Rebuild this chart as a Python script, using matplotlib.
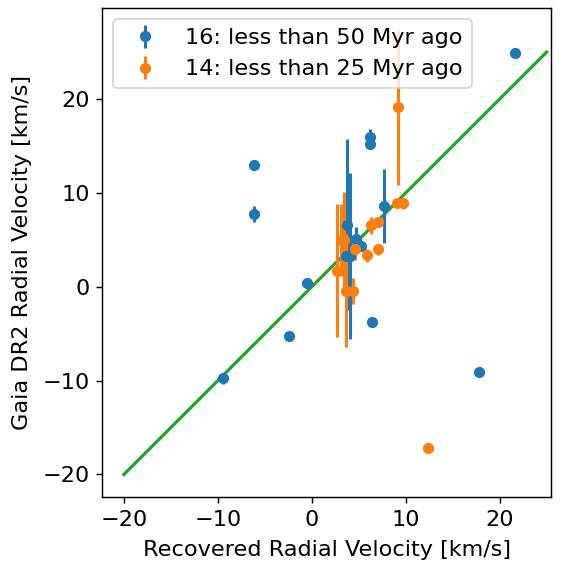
import matplotlib
matplotlib.use("Agg")
import matplotlib.pyplot as plt

# group 16 (blue)
rv16 = [21.6, -6.15, -6.14, -2.4, -9.5, -0.47, 17.8, 6.45, 6.2, 6.2, 7.69,
        3.72, 4.07, 3.6, 4.71, 5.2]
gaia16 = [24.9, 12.96, 7.71, -5.25, -9.75, 0.36, -9.1, -3.73, 16.0, 15.2, 8.56,
          6.6, 3.27, 3.27, 5.05, 4.33]
err16 = [0.2, 0.2, 0.85, 0.4, 0.6, 0.3, 0.2, 0.4, 0.8, 0.5, 3.95,
         9.1, 8.8, 0.4, 1.3, 0.4]

# group 14 (orange)
rv14 = [2.66, 3.08, 3.47, 3.6, 4.43, 4.64, 5.85, 6.3, 7.09, 7.02, 9.04, 9.75, 9.15, 12.4]
gaia14 = [1.7, 4.97, 4.97, -0.43, -0.43, 3.98, 3.37, 6.57, 6.92, 3.98, 8.88, 8.88, 19.1, -17.15]
err14 = [7.1, 3.8, 5.1, 6.0, 1.4, 1.1, 0.7, 0.9, 0.3, 0.6, 0.3, 0.6, 8.3, 0.2]

one_to_one = [-20, 25]

plt.rcParams["font.size"] = 12.4

fig = plt.figure(figsize=(566 / 130, 566 / 130), dpi=130)
ax = fig.add_axes([102.3 / 566, 69 / 566, 449 / 566, 489 / 566])

ax.plot(one_to_one, one_to_one, color="C2", lw=1.8)
ax.errorbar(rv16, gaia16, yerr=err16, fmt="o", color="C0", ms=5.2, elinewidth=1.7,
            label="16: less than 50 Myr ago")
ax.errorbar(rv14, gaia14, yerr=err14, fmt="o", color="C1", ms=5.2, elinewidth=1.7,
            label="14: less than 25 Myr ago")

ax.set_xlim(-22.3, 25.5)
ax.set_ylim(-22.4, 29.7)
ax.set_xticks([-20, -10, 0, 10, 20])
ax.set_yticks([-20, -10, 0, 10, 20])
ax.set_xlabel("Recovered Radial Velocity [km/s]", labelpad=6)
ax.set_ylabel("Gaia DR2 Radial Velocity [km/s]", labelpad=6)
ax.legend(loc="upper left")

fig.savefig("out.png", dpi=130)
